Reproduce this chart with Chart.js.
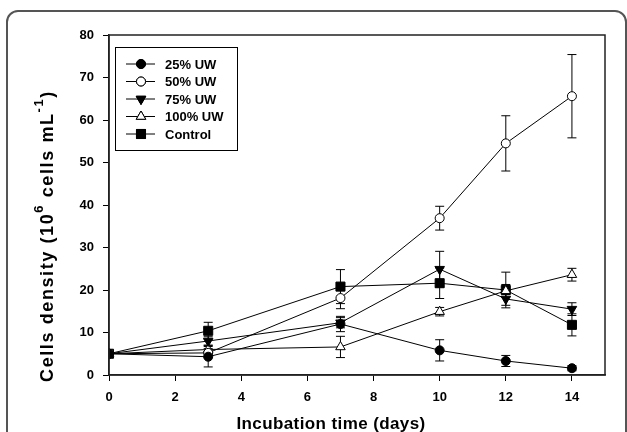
<!DOCTYPE html>
<html><head><meta charset="utf-8">
<script src="https://cdn.jsdelivr.net/npm/chart.js@4/dist/chart.umd.min.js"></script>
<style>html,body{margin:0;padding:0;background:#fff}#wrap{width:627px;height:432px;position:relative}</style>
</head><body><div id="wrap"><canvas id="c" width="627" height="432"></canvas></div>
<script>
const days = [0, 3, 7, 10, 12, 14];
const seriesNames = ['25% UW', '50% UW', '75% UW', '100% UW', 'Control'];
const uw25 = [5, 4.3, 12.0, 5.8, 3.3, 1.6];
const uw25Err = [0, 2.4, 1.8, 2.5, 1.3, 0.6];
const uw50 = [5, 5.2, 18.1, 36.9, 54.5, 65.6];
const uw50Err = [0, 1.0, 2.5, 2.8, 6.5, 9.8];
const uw75 = [5, 8.0, 12.3, 24.9, 17.9, 15.5];
const uw75Err = [0, 1.0, 1.2, 4.2, 1.5, 1.5];
const uw100 = [5, 6.0, 6.6, 14.9, 19.8, 23.6];
const uw100Err = [0, 1.0, 2.5, 1.0, 1.5, 1.5];
const control = [5, 10.4, 20.8, 21.6, 20.0, 11.8];
const controlErr = [0, 2.0, 4.0, 3.6, 4.2, 2.6];
const xTicks = [0, 2, 4, 6, 8, 10, 12, 14];
const yTicks = [0, 10, 20, 30, 40, 50, 60, 70, 80];
const xTitle = 'Incubation time (days)';
const yTitleParts = [['Cells density (10', false], ['6', true], [' cells mL', false], ['-1', true], [')', false]];

const values = [uw25, uw50, uw75, uw100, control];
const errors = [uw25Err, uw50Err, uw75Err, uw100Err, controlErr];
const styles = [
  {pointStyle: 'circle', fill: '#000', r: 4.5, rot: 0},
  {pointStyle: 'circle', fill: '#fff', r: 4.5, rot: 0},
  {pointStyle: 'triangle', fill: '#000', r: 5.5, rot: 180},
  {pointStyle: 'triangle', fill: '#fff', r: 5.5, rot: 0},
  {pointStyle: 'rect', fill: '#000', r: 6.4, rot: 0}
];

const datasets = seriesNames.map((name, i) => ({
  label: name,
  data: days.map((d, j) => ({x: d, y: values[i][j]})),
  borderColor: '#000',
  borderWidth: 1,
  pointStyle: styles[i].pointStyle,
  pointRotation: styles[i].rot,
  pointRadius: styles[i].r,
  pointBackgroundColor: styles[i].fill,
  pointBorderColor: '#000',
  pointBorderWidth: 1,
  tension: 0,
  fill: false
}));

const FONT = '"Liberation Sans", Arial, sans-serif';

const decor = {
  id: 'decor',
  beforeDraw(chart) {
    const ctx = chart.ctx;
    ctx.save();
    ctx.fillStyle = '#fff';
    ctx.fillRect(0, 0, chart.width, chart.height);
    ctx.strokeStyle = '#555';
    ctx.lineWidth = 2;
    ctx.beginPath();
    const L = 7, T = 11, R = 626, rad = 11;
    ctx.moveTo(L, 460);
    ctx.lineTo(L, T + rad);
    ctx.arcTo(L, T, L + rad, T, rad);
    ctx.lineTo(R - rad, T);
    ctx.arcTo(R, T, R, T + rad, rad);
    ctx.lineTo(R, 460);
    ctx.stroke();
    ctx.restore();
  },
  beforeDatasetsDraw(chart) {
    const ctx = chart.ctx;
    const xs = chart.scales.x, ys = chart.scales.y;
    ctx.save();
    ctx.strokeStyle = '#000';
    ctx.lineWidth = 1;
    errors.forEach((errs, i) => {
      errs.forEach((e, j) => {
        if (!e) return;
        const px = xs.getPixelForValue(days[j]);
        const top = ys.getPixelForValue(values[i][j] + e);
        const bot = ys.getPixelForValue(values[i][j] - e);
        ctx.beginPath();
        ctx.moveTo(px, top); ctx.lineTo(px, bot);
        ctx.moveTo(px - 4.5, top); ctx.lineTo(px + 4.5, top);
        ctx.moveTo(px - 4.5, bot); ctx.lineTo(px + 4.5, bot);
        ctx.stroke();
      });
    });
    ctx.restore();
  },
  afterDraw(chart) {
    const ctx = chart.ctx;
    const a = chart.chartArea;
    ctx.save();
    ctx.strokeStyle = '#222';
    ctx.lineWidth = 1.5;
    ctx.strokeRect(a.left, a.top, a.right - a.left, a.bottom - a.top);
    // legend
    const lx = 115, ly = 47, lw = 122, lh = 103;
    ctx.lineWidth = 1;
    ctx.strokeStyle = '#000';
    ctx.fillStyle = '#fff';
    ctx.fillRect(lx, ly, lw, lh);
    ctx.strokeRect(lx + 0.5, ly + 0.5, lw, lh);
    ctx.font = 'bold 13px ' + FONT;
    ctx.textBaseline = 'middle';
    seriesNames.forEach((name, i) => {
      const y = 64 + i * 17.5;
      ctx.strokeStyle = '#000';
      ctx.lineWidth = 1;
      ctx.beginPath(); ctx.moveTo(126, y); ctx.lineTo(155, y); ctx.stroke();
      Chart.helpers.drawPoint(ctx, {pointStyle: styles[i].pointStyle, rotation: styles[i].rot, radius: styles[i].r, borderWidth: 1}, 141, y);
      ctx.fillStyle = styles[i].fill; ctx.fill(); ctx.stroke();
      ctx.fillStyle = '#000';
      ctx.fillText(name, 165, y + 1);
    });
    // x title
    ctx.font = 'bold 17px ' + FONT;
    ctx.letterSpacing = '0.4px';
    ctx.textAlign = 'center';
    ctx.textBaseline = 'middle';
    ctx.fillStyle = '#000';
    ctx.fillText(xTitle, 331, 424);
    // y title
    ctx.translate(48, 236);
    ctx.rotate(-Math.PI / 2);
    ctx.textAlign = 'left';
    ctx.textBaseline = 'middle';
    ctx.letterSpacing = '1.6px';
    let total = 0;
    const fonts = {n: 'bold 18px ' + FONT, s: 'bold 13px ' + FONT};
    yTitleParts.forEach(([t, sup]) => { ctx.font = sup ? fonts.s : fonts.n; total += ctx.measureText(t).width; });
    let x = -total / 2;
    yTitleParts.forEach(([t, sup]) => {
      ctx.font = sup ? fonts.s : fonts.n;
      ctx.fillText(t, x, sup ? -9 : 0);
      x += ctx.measureText(t).width;
    });
    ctx.restore();
  }
};

new Chart(document.getElementById('c'), {
  type: 'line',
  data: {datasets},
  options: {
    responsive: false,
    animation: false,
    devicePixelRatio: 1,
    layout: {padding: {left: 0, right: 22, top: 35, bottom: 0}},
    plugins: {legend: {display: false}, tooltip: {enabled: false}},
    scales: {
      x: {
        type: 'linear', min: 0, max: 15,
        afterBuildTicks: s => { s.ticks = xTicks.map(v => ({value: v})); },
        afterFit: s => { s.height = 57; },
        grid: {drawOnChartArea: false, drawTicks: true, tickLength: 6, color: '#000', tickColor: '#000'},
        border: {display: true, color: '#222', width: 1.5},
        ticks: {color: '#000', padding: 9, maxRotation: 0, font: {family: FONT, size: 13, weight: 'bold'}}
      },
      y: {
        type: 'linear', min: 0, max: 80,
        afterBuildTicks: s => { s.ticks = yTicks.map(v => ({value: v})); },
        afterFit: s => { s.width = 109; },
        grid: {drawOnChartArea: false, drawTicks: true, tickLength: 6, color: '#000', tickColor: '#000'},
        border: {display: true, color: '#222', width: 1.5},
        ticks: {color: '#000', padding: 9, font: {family: FONT, size: 13, weight: 'bold'}}
      }
    }
  },
  plugins: [decor]
});
</script></body></html>
